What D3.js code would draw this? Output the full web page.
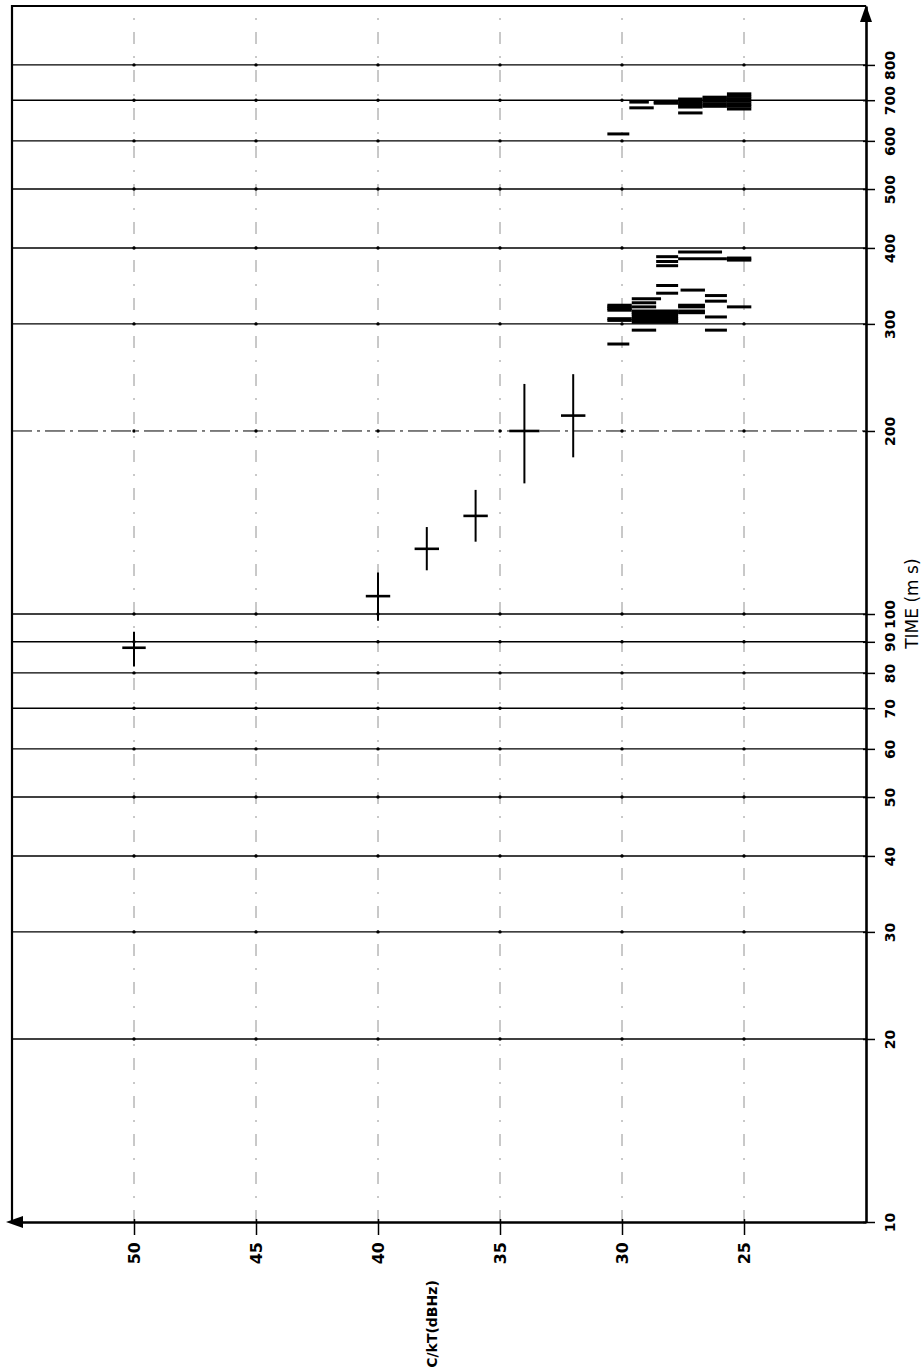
<!DOCTYPE html>
<html>
<head>
<meta charset="utf-8">
<script src="https://cdn.jsdelivr.net/npm/d3@7"></script>
<style>
body { margin: 0; background: #fff; }
text { font-family: "DejaVu Sans", sans-serif; fill: #000; }
</style>
</head>
<body>
<svg id="chart" width="924" height="1372"></svg>
<script>
// axis ticks
let ckt_ticks = [50, 45, 40, 35, 30, 25];
let time_ticks = [10, 20, 30, 40, 50, 60, 70, 80, 90, 100, 200, 300, 400, 500, 600, 700, 800];

// measured points with error bars (C/kT in dBHz, time in ms)
let cross_ckt = [50, 40, 38, 36, 34, 32];
let cross_half = [0.48, 0.5, 0.5, 0.5, 0.62, 0.5];
let cross_time = [88, 107, 128, 145, 200, 212];
let cross_lo = [82, 97.5, 118, 131.5, 164, 181];
let cross_hi = [93.5, 117, 139, 160, 239, 248];

// horizontal range bars: from C/kT, to C/kT, at time
let bar_from = [
    30.6, 29.7, 29.7, 28.7, 28.7, 27.7, 27.7, 27.7, 27.7, 27.7, 27.7,
    26.7, 26.7, 26.7, 26.7, 26.7, 25.7, 25.7, 25.7, 25.7, 25.7, 25.7, 25.7,
    27.7, 27.7, 25.7, 25.7, 28.6, 28.6, 28.6, 28.6, 27.6, 28.6, 26.6, 29.6, 26.6, 29.6,
    30.6, 30.6, 30.6, 30.6, 29.6, 29.6, 29.6, 29.6, 29.6, 29.6, 29.6, 29.6,
    30.6, 30.6, 27.7, 27.7, 27.7, 27.7, 25.7, 26.6, 29.6, 26.6, 30.6
];
let bar_to = [
    29.7, 28.9, 28.7, 27.7, 27.7, 26.7, 26.7, 26.7, 26.7, 26.7, 26.7,
    25.7, 25.7, 25.7, 25.7, 25.7, 24.7, 24.7, 24.7, 24.7, 24.7, 24.7, 24.7,
    25.9, 25.7, 24.7, 24.7, 27.7, 27.7, 27.7, 27.7, 26.6, 27.7, 25.7, 28.4, 25.7, 28.6,
    29.6, 29.6, 29.6, 29.6, 28.6, 27.7, 27.7, 27.7, 27.7, 27.7, 27.7, 27.7,
    29.6, 29.6, 26.6, 26.6, 26.6, 26.6, 24.7, 25.7, 28.6, 25.7, 29.7
];
let bar_time = [
    616, 695, 680, 695, 692, 703, 698, 692, 687, 682, 667,
    708, 703, 697, 690, 684, 717, 710, 703, 697, 690, 684, 677,
    394, 384, 385, 382, 387, 380, 374, 347, 341, 337, 334, 330, 327, 325,
    322, 320, 318, 316, 320, 315, 313, 311, 308, 306, 304, 302,
    306, 304, 322, 320, 315, 313, 320, 308, 293, 293, 278
];

let svg = d3.select("#chart");

let x = d3.scaleLinear()
    .domain([55, 20])
    .range([12, 866]);
let y = d3.scaleLog()
    .domain([10, 1000])
    .range([1222, 6]);

let x0 = x(55), x1 = x(20), y0 = y(10), y1 = y(1000);

// vertical dashed grid, faint
svg.append("g")
    .selectAll("line")
    .data(ckt_ticks)
    .enter().append("line")
        .attr("x1", d => x(d))
        .attr("x2", d => x(d))
        .attr("y1", y0)
        .attr("y2", y1)
        .attr("stroke", "#777")
        .attr("stroke-width", 0.8)
        .attr("stroke-dasharray", "12,12,2,12");

// horizontal grid
svg.append("g")
    .selectAll("line")
    .data(time_ticks.filter(t => t > 10))
    .enter().append("line")
        .attr("x1", x0)
        .attr("x2", x1)
        .attr("y1", d => y(d))
        .attr("y2", d => y(d))
        .attr("stroke", "#000")
        .attr("stroke-width", d => d == 200 ? 1 : 1.4)
        .attr("stroke-dasharray", d => d == 200 ? "20,5,3,5" : null);

// small marks where the grids cross
let crossings = [];
ckt_ticks.forEach(c => time_ticks.filter(t => t > 10).forEach(t => crossings.push([c, t])));
svg.append("g")
    .selectAll("circle")
    .data(crossings)
    .enter().append("circle")
        .attr("cx", d => x(d[0]))
        .attr("cy", d => y(d[1]))
        .attr("r", 1.7)
        .attr("fill", "#000");

// frame: top and left
svg.append("path")
    .attr("d", `M${x0},${y0}V${y1}H${x1}`)
    .attr("fill", "none")
    .attr("stroke", "#000")
    .attr("stroke-width", 2.2);

// bottom axis
let xAxis = svg.append("g")
    .attr("transform", `translate(0, ${y0})`)
    .call(d3.axisBottom(x).tickValues(ckt_ticks).tickSize(13).tickSizeOuter(0).tickFormat(d3.format("d")));
xAxis.select(".domain").attr("stroke-width", 2.6);
xAxis.selectAll(".tick line").attr("stroke-width", 1.5).attr("y1", -3);
xAxis.selectAll(".tick text")
    .attr("x", -20)
    .attr("y", 0)
    .attr("dy", "0.35em")
    .attr("transform", "rotate(-90)")
    .attr("text-anchor", "end")
    .attr("font-size", 16)
    .attr("font-weight", "bold")
    .attr("font-family", "DejaVu Sans");

// right axis
let yAxis = svg.append("g")
    .attr("transform", `translate(${x1}, 0)`)
    .call(d3.axisRight(y).tickValues(time_ticks).tickSize(9).tickSizeOuter(0).tickFormat(d3.format("d")));
yAxis.select(".domain").attr("stroke-width", 2.6);
yAxis.selectAll(".tick line").attr("stroke-width", 1.5).attr("x1", -3);
yAxis.selectAll(".tick text")
    .attr("x", 0)
    .attr("y", 24)
    .attr("dy", "0.35em")
    .attr("transform", "rotate(-90)")
    .attr("text-anchor", "middle")
    .attr("font-size", 14)
    .attr("font-weight", "bold")
    .attr("font-family", "DejaVu Sans");

// arrow heads
svg.append("path")
    .attr("d", `M${x1},${y1 - 1}L${x1 - 6},${y1 + 16}L${x1 + 6},${y1 + 16}Z`)
    .attr("fill", "#000");
svg.append("path")
    .attr("d", `M${x0 - 6},${y0}L${x0 + 11},${y0 - 6}L${x0 + 11},${y0 + 6}Z`)
    .attr("fill", "#000");

// axis titles
svg.append("text")
    .attr("transform", `translate(912, ${y(104)}) rotate(-90)`)
    .attr("dy", "0.35em")
    .attr("text-anchor", "middle")
    .attr("font-size", 17)
    .text("TIME (m s)");

svg.append("text")
    .attr("transform", `translate(${x(37.8)}, 1324) rotate(-90)`)
    .attr("dy", "0.35em")
    .attr("text-anchor", "middle")
    .attr("font-size", 14)
    .attr("font-weight", "bold")
    .text("C/kT(dBHz)");

// range bars
svg.append("g")
    .selectAll("line")
    .data(d3.range(bar_time.length))
    .enter().append("line")
        .attr("x1", i => x(bar_from[i]))
        .attr("x2", i => x(bar_to[i]))
        .attr("y1", i => y(bar_time[i]))
        .attr("y2", i => y(bar_time[i]))
        .attr("stroke", "#000")
        .attr("stroke-width", 3);

// crosses
let crosses = svg.append("g")
    .selectAll("g")
    .data(d3.range(cross_ckt.length))
    .enter().append("g");
crosses.append("line")
    .attr("x1", i => x(cross_ckt[i]))
    .attr("x2", i => x(cross_ckt[i]))
    .attr("y1", i => y(cross_lo[i]))
    .attr("y2", i => y(cross_hi[i]))
    .attr("stroke", "#000")
    .attr("stroke-width", 2);
crosses.append("line")
    .attr("x1", i => x(cross_ckt[i] + cross_half[i]))
    .attr("x2", i => x(cross_ckt[i] - cross_half[i]))
    .attr("y1", i => y(cross_time[i]))
    .attr("y2", i => y(cross_time[i]))
    .attr("stroke", "#000")
    .attr("stroke-width", 2.6);
</script>
</body>
</html>
